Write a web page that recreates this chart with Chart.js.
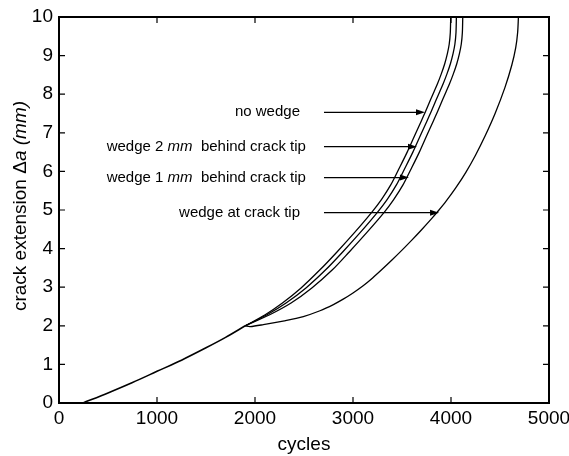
<!DOCTYPE html>
<html>
<head>
<meta charset="utf-8">
<script src="https://cdn.jsdelivr.net/npm/chart.js@4.4.0/dist/chart.umd.min.js"></script>
<style>
  body { margin: 0; background: #fff; }
</style>
</head>
<body>
<canvas id="crackChart" width="569" height="456"></canvas>
<script>
// common part of all curves, before the wedge takes effect
const sharedCycles = [245, 500, 750, 1000, 1250, 1500, 1700, 1900];
const sharedCrack  = [0, 0.26, 0.53, 0.82, 1.11, 1.43, 1.70, 2.00];

// the three upper branches are read at the same crack lengths
const branchCrack   = [2.0, 2.28, 2.59, 2.98, 3.45, 3.92, 4.42, 4.94, 5.27, 5.65, 6.05, 6.5, 6.99, 7.3, 7.54, 7.86, 8.07, 8.27, 8.52, 8.79, 9.05, 9.3, 9.6, 10];
const noWedgeCycles = [1900, 2100, 2280, 2470, 2663, 2839, 3017, 3191, 3290, 3385, 3465, 3553, 3640, 3696, 3738, 3792, 3828, 3862, 3900, 3936, 3963, 3982, 3993, 3997];
const wedge2Cycles  = [1900, 2118, 2317, 2520, 2721, 2897, 3075, 3249, 3348, 3443, 3523, 3611, 3698, 3754, 3796, 3850, 3886, 3920, 3958, 3994, 4021, 4040, 4051, 4055];
const wedge1Cycles  = [1900, 2145, 2368, 2580, 2790, 2964, 3142, 3318, 3415, 3510, 3590, 3677, 3763, 3819, 3861, 3915, 3951, 3985, 4023, 4059, 4086, 4105, 4116, 4120];

// wedge at crack tip
const tipCycles = [1900, 1950, 2085, 2300, 2493, 2663, 2800, 2900, 3000, 3100, 3200, 3300, 3400, 3500, 3600, 3700, 3800, 3871, 3950, 4050, 4150, 4250, 4350, 4450, 4550, 4620, 4660, 4680, 4688];
const tipCrack  = [2.0, 1.98, 2.03, 2.13, 2.24, 2.39, 2.55, 2.69, 2.85, 3.03, 3.24, 3.47, 3.71, 3.96, 4.22, 4.49, 4.77, 4.98, 5.23, 5.58, 5.97, 6.42, 6.93, 7.5, 8.17, 8.75, 9.2, 9.6, 10];

const xTicks = [0, 1000, 2000, 3000, 4000, 5000];
const yTicks = [0, 1, 2, 3, 4, 5, 6, 7, 8, 9, 10];

// annotations: text (italic parts between *), text right end, arrow start / end, height
const noteTexts  = ['no wedge', 'wedge 2 *mm*  behind crack tip', 'wedge 1 *mm*  behind crack tip', 'wedge at crack tip'];
const noteRight  = [2459, 2520, 2520, 2459];
const arrowFrom  = [2704, 2704, 2704, 2704];
const arrowTo    = [3735, 3653, 3571, 3878];
const noteCrack  = [7.53, 6.64, 5.84, 4.93];

const xTitle = 'cycles';
const yTitle = 'crack extension Δ*a* *(mm)*';

const FONT = '"Liberation Sans", Arial, Helvetica, sans-serif';

function points(xs, ys) {
    return xs.map((v, i) => ({ x: v, y: ys[i] }));
}

function curve(data, width) {
    return {
        data: data,
        showLine: true,
        borderColor: '#000',
        borderWidth: width,
        pointRadius: 0,
        tension: 0.3,
        fill: false
    };
}

// text with italic parts, measured first, then drawn from startX
function mixedText(ctx, text, y, size) {
    const parts = text.split('*');
    let total = 0;
    parts.forEach((p, i) => {
        ctx.font = (i % 2 ? 'italic ' : '') + size + 'px ' + FONT;
        total += ctx.measureText(p).width;
    });
    return {
        width: total,
        draw(startX) {
            let cx = startX;
            parts.forEach((p, i) => {
                ctx.font = (i % 2 ? 'italic ' : '') + size + 'px ' + FONT;
                ctx.fillText(p, cx, y);
                cx += ctx.measureText(p).width;
            });
        }
    };
}

// frame, inside ticks on all sides, arrows and titles
const decorPlugin = {
    id: 'decor',
    afterDraw(chart) {
        const ctx = chart.ctx;
        const a = chart.chartArea;
        const xs = chart.scales.x;
        const ys = chart.scales.y;
        ctx.save();
        ctx.strokeStyle = '#000';
        ctx.fillStyle = '#000';

        ctx.lineWidth = 2;
        ctx.strokeRect(a.left, a.top, a.right - a.left, a.bottom - a.top);

        ctx.lineWidth = 1.2;
        ctx.beginPath();
        xTicks.slice(1, -1).forEach(v => {
            const px = xs.getPixelForValue(v);
            ctx.moveTo(px, a.bottom); ctx.lineTo(px, a.bottom - 6);
            ctx.moveTo(px, a.top); ctx.lineTo(px, a.top + 6);
        });
        yTicks.slice(1, -1).forEach(v => {
            const py = ys.getPixelForValue(v);
            ctx.moveTo(a.left, py); ctx.lineTo(a.left + 6, py);
            ctx.moveTo(a.right, py); ctx.lineTo(a.right - 6, py);
        });
        ctx.stroke();

        // annotation labels with arrows
        ctx.textBaseline = 'middle';
        noteTexts.forEach((t, i) => {
            const py = ys.getPixelForValue(noteCrack[i]);
            const m = mixedText(ctx, t, py, 15);
            m.draw(xs.getPixelForValue(noteRight[i]) - m.width);
            const x0 = xs.getPixelForValue(arrowFrom[i]);
            const x1 = xs.getPixelForValue(arrowTo[i]);
            ctx.lineWidth = 1.3;
            ctx.beginPath();
            ctx.moveTo(x0, py);
            ctx.lineTo(x1 - 8, py);
            ctx.stroke();
            ctx.beginPath();
            ctx.moveTo(x1, py);
            ctx.lineTo(x1 - 9, py - 3);
            ctx.lineTo(x1 - 9, py + 3);
            ctx.closePath();
            ctx.fill();
        });

        // axis titles
        const xt = mixedText(ctx, xTitle, 445, 19);
        xt.draw((a.left + a.right) / 2 - xt.width / 2);

        ctx.translate(21, (a.top + a.bottom) / 2 - 4);
        ctx.rotate(-Math.PI / 2);
        const yt = mixedText(ctx, yTitle, 0, 19);
        yt.draw(-yt.width / 2);

        ctx.restore();
    }
};

function createChart() {
    const ctx = document.getElementById('crackChart').getContext('2d');
    Chart.defaults.color = '#000';
    Chart.defaults.font.family = FONT;

    new Chart(ctx, {
        type: 'scatter',
        data: {
            datasets: [
                curve(points(sharedCycles, sharedCrack), 1.6),
                curve(points(noWedgeCycles, branchCrack), 1.3),
                curve(points(wedge2Cycles, branchCrack), 1.3),
                curve(points(wedge1Cycles, branchCrack), 1.3),
                curve(points(tipCycles, tipCrack), 1.3)
            ]
        },
        options: {
            responsive: false,
            animation: false,
            devicePixelRatio: 1,
            layout: { padding: { top: 17, right: 20, left: 0, bottom: 0 } },
            plugins: {
                legend: { display: false },
                tooltip: { enabled: false }
            },
            scales: {
                x: {
                    type: 'linear',
                    min: 0,
                    max: 5000,
                    grid: { display: false, drawTicks: false },
                    border: { display: false },
                    ticks: { padding: 4, font: { size: 19 }, maxRotation: 0, callback: v => String(v) },
                    afterBuildTicks: s => { s.ticks = xTicks.map(v => ({ value: v })); },
                    afterFit: s => { s.height = 53; s.paddingLeft = 0; s.paddingRight = 0; }
                },
                y: {
                    type: 'linear',
                    min: 0,
                    max: 10,
                    grid: { display: false, drawTicks: false },
                    border: { display: false },
                    ticks: { padding: 6, font: { size: 19 }, callback: v => String(v) },
                    afterBuildTicks: s => { s.ticks = yTicks.map(v => ({ value: v })); },
                    afterFit: s => { s.width = 59; s.paddingTop = 0; s.paddingBottom = 0; }
                }
            }
        },
        plugins: [decorPlugin]
    });
}

document.addEventListener('DOMContentLoaded', createChart);
</script>
</body>
</html>
